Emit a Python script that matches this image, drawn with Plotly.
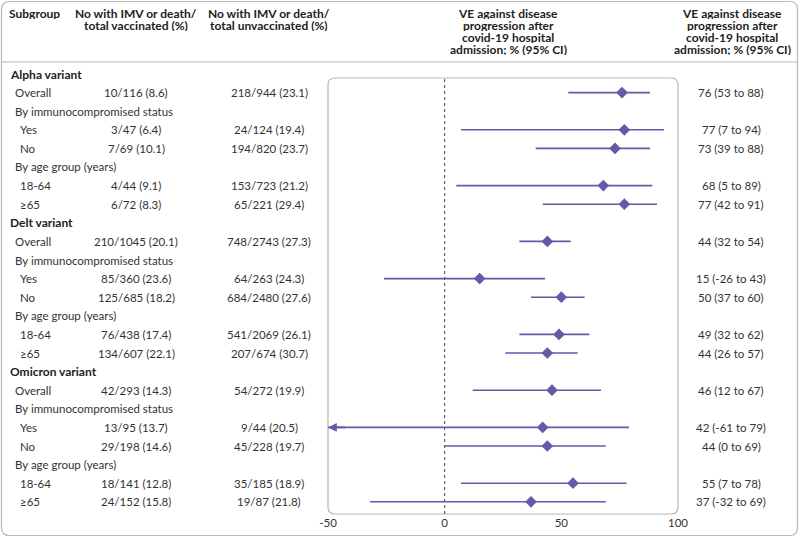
import plotly.graph_objects as go

# ---------------- data ----------------
row_labels = [
    "Alpha variant", "Overall", "By immunocompromised status", "Yes", "No",
    "By age group (years)", "18-64", "≥65",
    "Delt variant", "Overall", "By immunocompromised status", "Yes", "No",
    "By age group (years)", "18-64", "≥65",
    "Omicron variant", "Overall", "By immunocompromised status", "Yes", "No",
    "By age group (years)", "18-64", "≥65",
]
# 0 = variant header, 1 = subheading / overall, 2 = indented subgroup
row_level = [0, 1, 1, 2, 2, 1, 2, 2,
             0, 1, 1, 2, 2, 1, 2, 2,
             0, 1, 1, 2, 2, 1, 2, 2]
vaccinated = [
    "", "10/116 (8.6)", "", "3/47 (6.4)", "7/69 (10.1)", "", "4/44 (9.1)", "6/72 (8.3)",
    "", "210/1045 (20.1)", "", "85/360 (23.6)", "125/685 (18.2)", "", "76/438 (17.4)", "134/607 (22.1)",
    "", "42/293 (14.3)", "", "13/95 (13.7)", "29/198 (14.6)", "", "18/141 (12.8)", "24/152 (15.8)",
]
unvaccinated = [
    "", "218/944 (23.1)", "", "24/124 (19.4)", "194/820 (23.7)", "", "153/723 (21.2)", "65/221 (29.4)",
    "", "748/2743 (27.3)", "", "64/263 (24.3)", "684/2480 (27.6)", "", "541/2069 (26.1)", "207/674 (30.7)",
    "", "54/272 (19.9)", "", "9/44 (20.5)", "45/228 (19.7)", "", "35/185 (18.9)", "19/87 (21.8)",
]
ve = [None, 76, None, 77, 73, None, 68, 77,
      None, 44, None, 15, 50, None, 49, 44,
      None, 46, None, 42, 44, None, 55, 37]
ve_lo = [None, 53, None, 7, 39, None, 5, 42,
         None, 32, None, -26, 37, None, 32, 26,
         None, 12, None, -61, 0, None, 7, -32]
ve_hi = [None, 88, None, 94, 88, None, 89, 91,
         None, 54, None, 43, 60, None, 62, 57,
         None, 67, None, 79, 69, None, 78, 69]
x_ticks = [-50, 0, 50, 100]
col_headers = ["Subgroup",
               "No with IMV or death/<br>total vaccinated (%)",
               "No with IMV or death/<br>total unvaccinated (%)"]
ve_header = ["VE against disease", "progression after",
             "covid-19 hospital", "admission; % (95% CI)"]

# ---------------- styling ----------------
W, H = 800, 538
PURPLE = "#6a57a8"
TEXT = "#333333"
HEAD = "#222222"
BORDER = "#b8b8b8"
FONT = "Lato"
FS = 11.5
FSH = 12
X_MIN, X_MAX = -50, 100

# pixel geometry
ROW0_PX, ROW_STEP = 74, 18.6
BOX_L, BOX_R, BOX_T, BOX_B = 328, 678, 78, 514
HDR_LINE = 12


def px(x):
    return x / W


def py(y):
    return 1 - y / H


def row_py(i):
    return py(ROW0_PX + i * ROW_STEP)


def rrect(x0, y0, x1, y1, r):
    pts = [("M", [(x0 + r, y0)]), ("L", [(x1 - r, y0)]), ("Q", [(x1, y0), (x1, y0 + r)]),
           ("L", [(x1, y1 - r)]), ("Q", [(x1, y1), (x1 - r, y1)]), ("L", [(x0 + r, y1)]),
           ("Q", [(x0, y1), (x0, y1 - r)]), ("L", [(x0, y0 + r)]), ("Q", [(x0, y0), (x0 + r, y0)])]
    s = ""
    for cmd, pp in pts:
        s += cmd + " " + " ".join(f"{px(a):.5f},{py(b):.5f}" for a, b in pp) + " "
    return s + "Z"


n = len(row_labels)
fig = go.Figure()

# CI lines
lx, ly = [], []
for i in range(n):
    if ve[i] is None:
        continue
    lx += [ve_lo[i], ve_hi[i], None]
    ly += [i, i, None]
fig.add_trace(go.Scatter(x=lx, y=ly, mode="lines",
                         line=dict(color=PURPLE, width=1.6),
                         hoverinfo="skip", showlegend=False))
# point estimates
pts_i = [i for i in range(n) if ve[i] is not None]
fig.add_trace(go.Scatter(x=[ve[i] for i in pts_i], y=pts_i, mode="markers",
                         marker=dict(symbol="diamond", size=9, color=PURPLE),
                         showlegend=False))

annotations = []
# arrows for CIs truncated at the axis minimum
for i in pts_i:
    if ve_lo[i] < X_MIN:
        annotations.append(dict(x=X_MIN, y=i, ax=X_MIN + 8, ay=i, xref="x", yref="y",
                                axref="x", ayref="y", text="", showarrow=True,
                                arrowhead=2, arrowsize=1.1, arrowwidth=1.6,
                                arrowcolor=PURPLE))

# table text
indent = {0: 8, 1: 13, 2: 18}
for i in range(n):
    lvl = row_level[i]
    yy = row_py(i)
    txt = f"<b>{row_labels[i]}</b>" if lvl == 0 else row_labels[i]
    annotations.append(dict(x=px(indent[lvl]), y=yy, xref="paper", yref="paper",
                            text=txt, showarrow=False, xanchor="left", yanchor="middle",
                            font=dict(family=FONT, size=FSH if lvl == 0 else FS,
                                      color=HEAD if lvl == 0 else TEXT)))
    if vaccinated[i]:
        annotations.append(dict(x=px(136), y=yy, xref="paper", yref="paper", text=vaccinated[i],
                                showarrow=False, xanchor="center", yanchor="middle",
                                font=dict(family=FONT, size=FS, color=TEXT)))
    if unvaccinated[i]:
        annotations.append(dict(x=px(269), y=yy, xref="paper", yref="paper", text=unvaccinated[i],
                                showarrow=False, xanchor="center", yanchor="middle",
                                font=dict(family=FONT, size=FS, color=TEXT)))
    if ve[i] is not None:
        annotations.append(dict(x=px(731), y=yy, xref="paper", yref="paper",
                                text=f"{ve[i]} ({ve_lo[i]} to {ve_hi[i]})",
                                showarrow=False, xanchor="center", yanchor="middle",
                                font=dict(family=FONT, size=FS, color=TEXT)))


def header_line(cx, cy, text, anchor="center"):
    return dict(x=px(cx), y=py(cy), xref="paper", yref="paper",
                text=f"<b>{text}</b>", showarrow=False,
                xanchor=anchor, yanchor="middle", height=HDR_LINE, borderpad=0,
                font=dict(family=FONT, size=FSH, color=HEAD))


annotations.append(header_line(8, 13, col_headers[0], anchor="left"))
for cx, hdr in [(136, col_headers[1]), (269, col_headers[2])]:
    for k, line in enumerate(hdr.split("<br>")):
        annotations.append(header_line(cx, 13 + HDR_LINE * k, line))
for cx in (508, 732):
    for k, line in enumerate(ve_header):
        annotations.append(header_line(cx, 13 + HDR_LINE * k, line))

shapes = [
    dict(type="path", path=rrect(1.5, 1.5, 797.5, 535.5, 8), xref="paper", yref="paper",
         line=dict(color=BORDER, width=1.2), layer="below"),
    dict(type="line", x0=px(1.5), x1=px(797.5), y0=py(62), y1=py(62), xref="paper", yref="paper",
         line=dict(color=BORDER, width=1.2)),
    dict(type="path", path=rrect(BOX_L, BOX_T, BOX_R, BOX_B, 7), xref="paper", yref="paper",
         line=dict(color=BORDER, width=1.2), layer="below"),
    dict(type="line", x0=0, x1=0, y0=0, y1=1, xref="x", yref="y domain",
         line=dict(color="#444444", width=1, dash="dot"), layer="below"),
]

y_top = (BOX_T - ROW0_PX) / ROW_STEP
y_bot = (BOX_B - ROW0_PX) / ROW_STEP

fig.update_layout(
    width=W, height=H,
    margin=dict(l=0, r=0, t=0, b=0, autoexpand=False),
    paper_bgcolor="white", plot_bgcolor="rgba(0,0,0,0)",
    showlegend=False,
    annotations=annotations, shapes=shapes,
    xaxis=dict(domain=[px(BOX_L), px(BOX_R)], range=[X_MIN, X_MAX],
               tickvals=x_ticks, ticktext=[str(v) for v in x_ticks],
               showgrid=False, zeroline=False, showline=False, ticks="",
               automargin=False,
               tickfont=dict(family=FONT, size=FS, color=TEXT)),
    yaxis=dict(domain=[py(BOX_B), py(BOX_T)], range=[y_bot, y_top],
               showgrid=False, zeroline=False, showline=False, showticklabels=False,
               automargin=False),
)

fig.write_html("out.html", config={"displayModeBar": False},
               post_script="document.body.style.margin='0';")
